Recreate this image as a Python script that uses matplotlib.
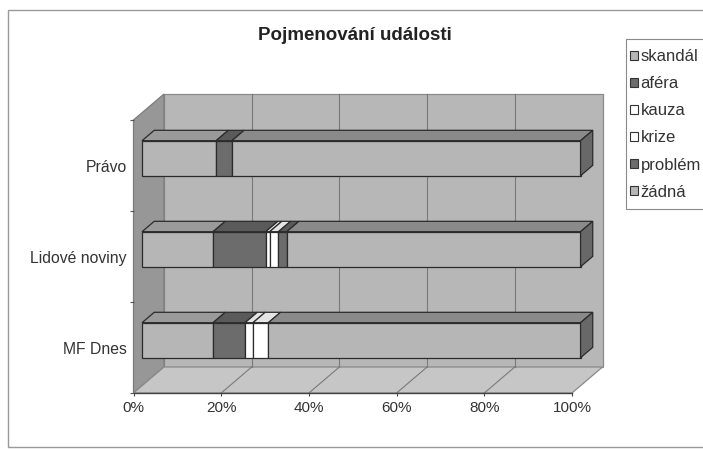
import matplotlib
matplotlib.use("Agg")
import matplotlib.pyplot as plt
from matplotlib.patches import Polygon, Patch, Rectangle
from matplotlib.lines import Line2D
from matplotlib.transforms import IdentityTransform

plt.rcParams['font.family'] = ['Liberation Sans', 'DejaVu Sans']

# share of each naming per newspaper (percent)
categories = ["Právo", "Lidové noviny", "MF Dnes"]
series_names = ["skandál", "aféra", "kauza", "krize", "problém", "žádná"]
skandal = [16.9, 16.2, 16.2]
afera = [3.6, 12.0, 7.3]
kauza = [0.0, 0.9, 1.8]
krize = [0.0, 2.0, 3.5]
problem = [0.0, 1.9, 0.0]
zadna = [79.5, 67.0, 71.2]
x_ticks = [0, 20, 40, 60, 80, 100]

series = [skandal, afera, kauza, krize, problem, zadna]
face_colors = ['#b6b6b6', '#6c6c6c', '#ffffff', '#ffffff', '#6c6c6c', '#b6b6b6']
top_colors = ['#9a9a9a', '#5a5a5a', '#e4e4e4', '#e4e4e4', '#5a5a5a', '#8a8a8a']

W, H = 703, 450
fig = plt.figure(figsize=(W / 100, H / 100), dpi=100)
fig.patch.set_facecolor('white')

# axes = front plane of the 3d box
ax = fig.add_axes([133.5 / W, 1 - 393 / H, 438.5 / W, 273 / H])
ax.set_xlim(0, 100)
ax.set_ylim(3, 0)
ax.patch.set_visible(False)

DX, DY = 30.5, 26.0   # pixel shift of the back wall
ZF, ZB = 0.28, 0.68   # bar front / back depth
BAR_H = 0.385


def proj(p, y, z):
    px, py = ax.transData.transform((p, y))
    s = fig.dpi / 100
    return (px + DX * z * s, py + DY * z * s)


def face(points, fc, ec='#2b2b2b', lw=0.9, zorder=2):
    ax.add_patch(Polygon([proj(*pt) for pt in points], closed=True,
                         facecolor=fc, edgecolor=ec, linewidth=lw,
                         transform=IdentityTransform(), clip_on=False,
                         zorder=zorder))


def seg(a, b, color='#7a7a7a', lw=0.8, zorder=1):
    (x1, y1), (x2, y2) = proj(*a), proj(*b)
    ax.add_line(Line2D([x1, x2], [y1, y2], color=color, linewidth=lw,
                       transform=IdentityTransform(), clip_on=False,
                       zorder=zorder))


# walls and floor
face([(0, 0, 1), (100, 0, 1), (100, 3, 1), (0, 3, 1)], '#b7b7b7', ec='#8a8a8a', zorder=0.5)
face([(0, 0, 0), (0, 0, 1), (0, 3, 1), (0, 3, 0)], '#979797', ec='#7c7c7c', zorder=0.6)
face([(0, 3, 0), (100, 3, 0), (100, 3, 1), (0, 3, 1)], '#c6c6c6', ec='#8a8a8a', zorder=0.6)
for t in x_ticks[1:-1]:
    seg((t, 0, 1), (t, 3, 1))
    seg((t, 3, 1), (t, 3, 0))

# stacked 100% bars
for i, cat in enumerate(categories):
    yc = i + 0.5
    top, bot = yc - BAR_H / 2, yc + BAR_H / 2
    total = sum(s[i] for s in series)
    left = 0.0
    for k, s in enumerate(series):
        w = s[i] / total * 100
        if w <= 0:
            continue
        right = left + w
        face([(left, top, ZF), (right, top, ZF), (right, top, ZB), (left, top, ZB)],
             top_colors[k], zorder=3)
        face([(left, top, ZF), (right, top, ZF), (right, bot, ZF), (left, bot, ZF)],
             face_colors[k], zorder=3)
        left = right
    face([(100, top, ZF), (100, top, ZB), (100, bot, ZB), (100, bot, ZF)],
         '#686868', zorder=3)

# axes decoration
for side in ['top', 'right', 'left']:
    ax.spines[side].set_visible(False)
ax.spines['bottom'].set_color('#444444')
ax.spines['bottom'].set_linewidth(1.0)

ax.set_xticks(x_ticks)
ax.set_xticklabels([f"{t}%" for t in x_ticks])
ax.tick_params(axis='x', length=2.2, width=0.8, color='#444444', pad=3.5,
               labelsize=11, labelcolor='#333333')
ax.set_yticks([i + 0.5 for i in range(len(categories))])
ax.set_yticklabels(categories)
ax.set_yticks(range(len(categories) + 1), minor=True)
ax.tick_params(axis='y', which='major', length=0, pad=5, labelsize=11.3,
               labelcolor='#333333')
ax.tick_params(axis='y', which='minor', length=2.8, width=0.8, color='#555555')

fig.text(355 / W, 1 - 36 / H, "Pojmenování události", ha='center', va='center',
         fontsize=13.5, fontweight='bold', color='#222222')

# legend: entries without frame, box drawn separately (it runs past the right edge)
handles = [Patch(facecolor=c, edgecolor='#333333', linewidth=0.8) for c in face_colors]
leg = fig.legend(handles, series_names, loc='upper left',
                 bbox_to_anchor=(630 / W, 1 - 49 / H), bbox_transform=fig.transFigure,
                 frameon=False, fontsize=12, handlelength=0.45, handleheight=0.45,
                 handletextpad=0.18, labelspacing=0.73, borderpad=0, borderaxespad=0)
for txt in leg.get_texts():
    txt.set_color('#333333')
fig.add_artist(Rectangle((626 / W, 1 - 209 / H), 100 / W, 170 / H, transform=fig.transFigure,
                         facecolor='white', edgecolor='#8a8a8a', linewidth=0.8, zorder=0))

fig.add_artist(Rectangle((8 / W, 3 / H), 720 / W, 437 / H, transform=fig.transFigure,
                         fill=False, edgecolor='#9a9a9a', linewidth=1.0))

fig.savefig("out.png", dpi=100)
